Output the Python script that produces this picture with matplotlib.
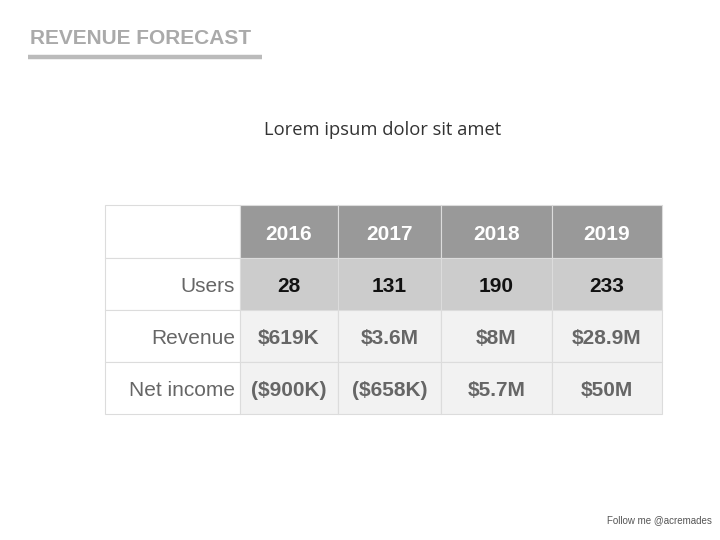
import matplotlib
matplotlib.use("Agg")
import matplotlib.pyplot as plt
from matplotlib.patches import Rectangle

title = "REVENUE FORECAST"
subtitle = "Lorem ipsum dolor sit amet"
footer = "Follow me @acremades"
years = ["2016", "2017", "2018", "2019"]
row_labels = ["Users", "Revenue", "Net income"]
users = ["28", "131", "190", "233"]
revenue = ["$619K", "$3.6M", "$8M", "$28.9M"]
net_income = ["($900K)", "($658K)", "$5.7M", "$50M"]
rows = [users, revenue, net_income]

plt.rcParams['font.family'] = ['Liberation Sans', 'DejaVu Sans']

fig = plt.figure(figsize=(7.2, 5.4), dpi=100)
ax = fig.add_axes([0, 0, 1, 1])
ax.set_xlim(0, 720)
ax.set_ylim(540, 0)
ax.axis('off')

# Title and underline
ax.text(30, 39, title, fontsize=15, fontweight='bold', color='#aaaaaa',
        ha='left', va='center')
ax.plot([28, 262], [57, 57], color='#bbbbbb', lw=3.2, solid_capstyle='butt')

ax.text(383, 130, subtitle, fontsize=13.2, color='#333333', ha='center',
        va='center', family=['Open Sans', 'DejaVu Sans'])

# Table geometry
col_edges = [105, 240, 338, 441, 552, 662]
row_edges = [205, 258, 310, 362, 414]
border = '#dcdcdc'
dy = 3
fs = 15

def cell(c, r, face):
    x0, x1 = col_edges[c], col_edges[c + 1]
    y0, y1 = row_edges[r], row_edges[r + 1]
    ax.add_patch(Rectangle((x0, y0), x1 - x0, y1 - y0, facecolor=face,
                           edgecolor=border, lw=0.8))
    return (x0 + x1) / 2, (y0 + y1) / 2 + dy

# header row
cell(0, 0, 'white')
for j, y in enumerate(years):
    cx, cy = cell(j + 1, 0, '#999999')
    ax.text(cx, cy, y, fontsize=fs, fontweight='bold', color='white',
            ha='center', va='center')

row_faces = ['#cccccc', '#f2f2f2', '#f2f2f2']
row_colors = ['#111111', '#666666', '#666666']
for i, (lab, vals) in enumerate(zip(row_labels, rows)):
    cell(0, i + 1, 'white')
    ax.text(col_edges[1] - 5, (row_edges[i + 1] + row_edges[i + 2]) / 2 + dy, lab,
            fontsize=fs, color='#666666', ha='right', va='center')
    for j, v in enumerate(vals):
        cx, cy = cell(j + 1, i + 1, row_faces[i])
        ax.text(cx, cy, v, fontsize=fs, fontweight='bold', color=row_colors[i],
                ha='center', va='center')

ax.text(712, 520, footer, fontsize=7, color='#555555', ha='right', va='center')

fig.savefig("out.png", dpi=100)
